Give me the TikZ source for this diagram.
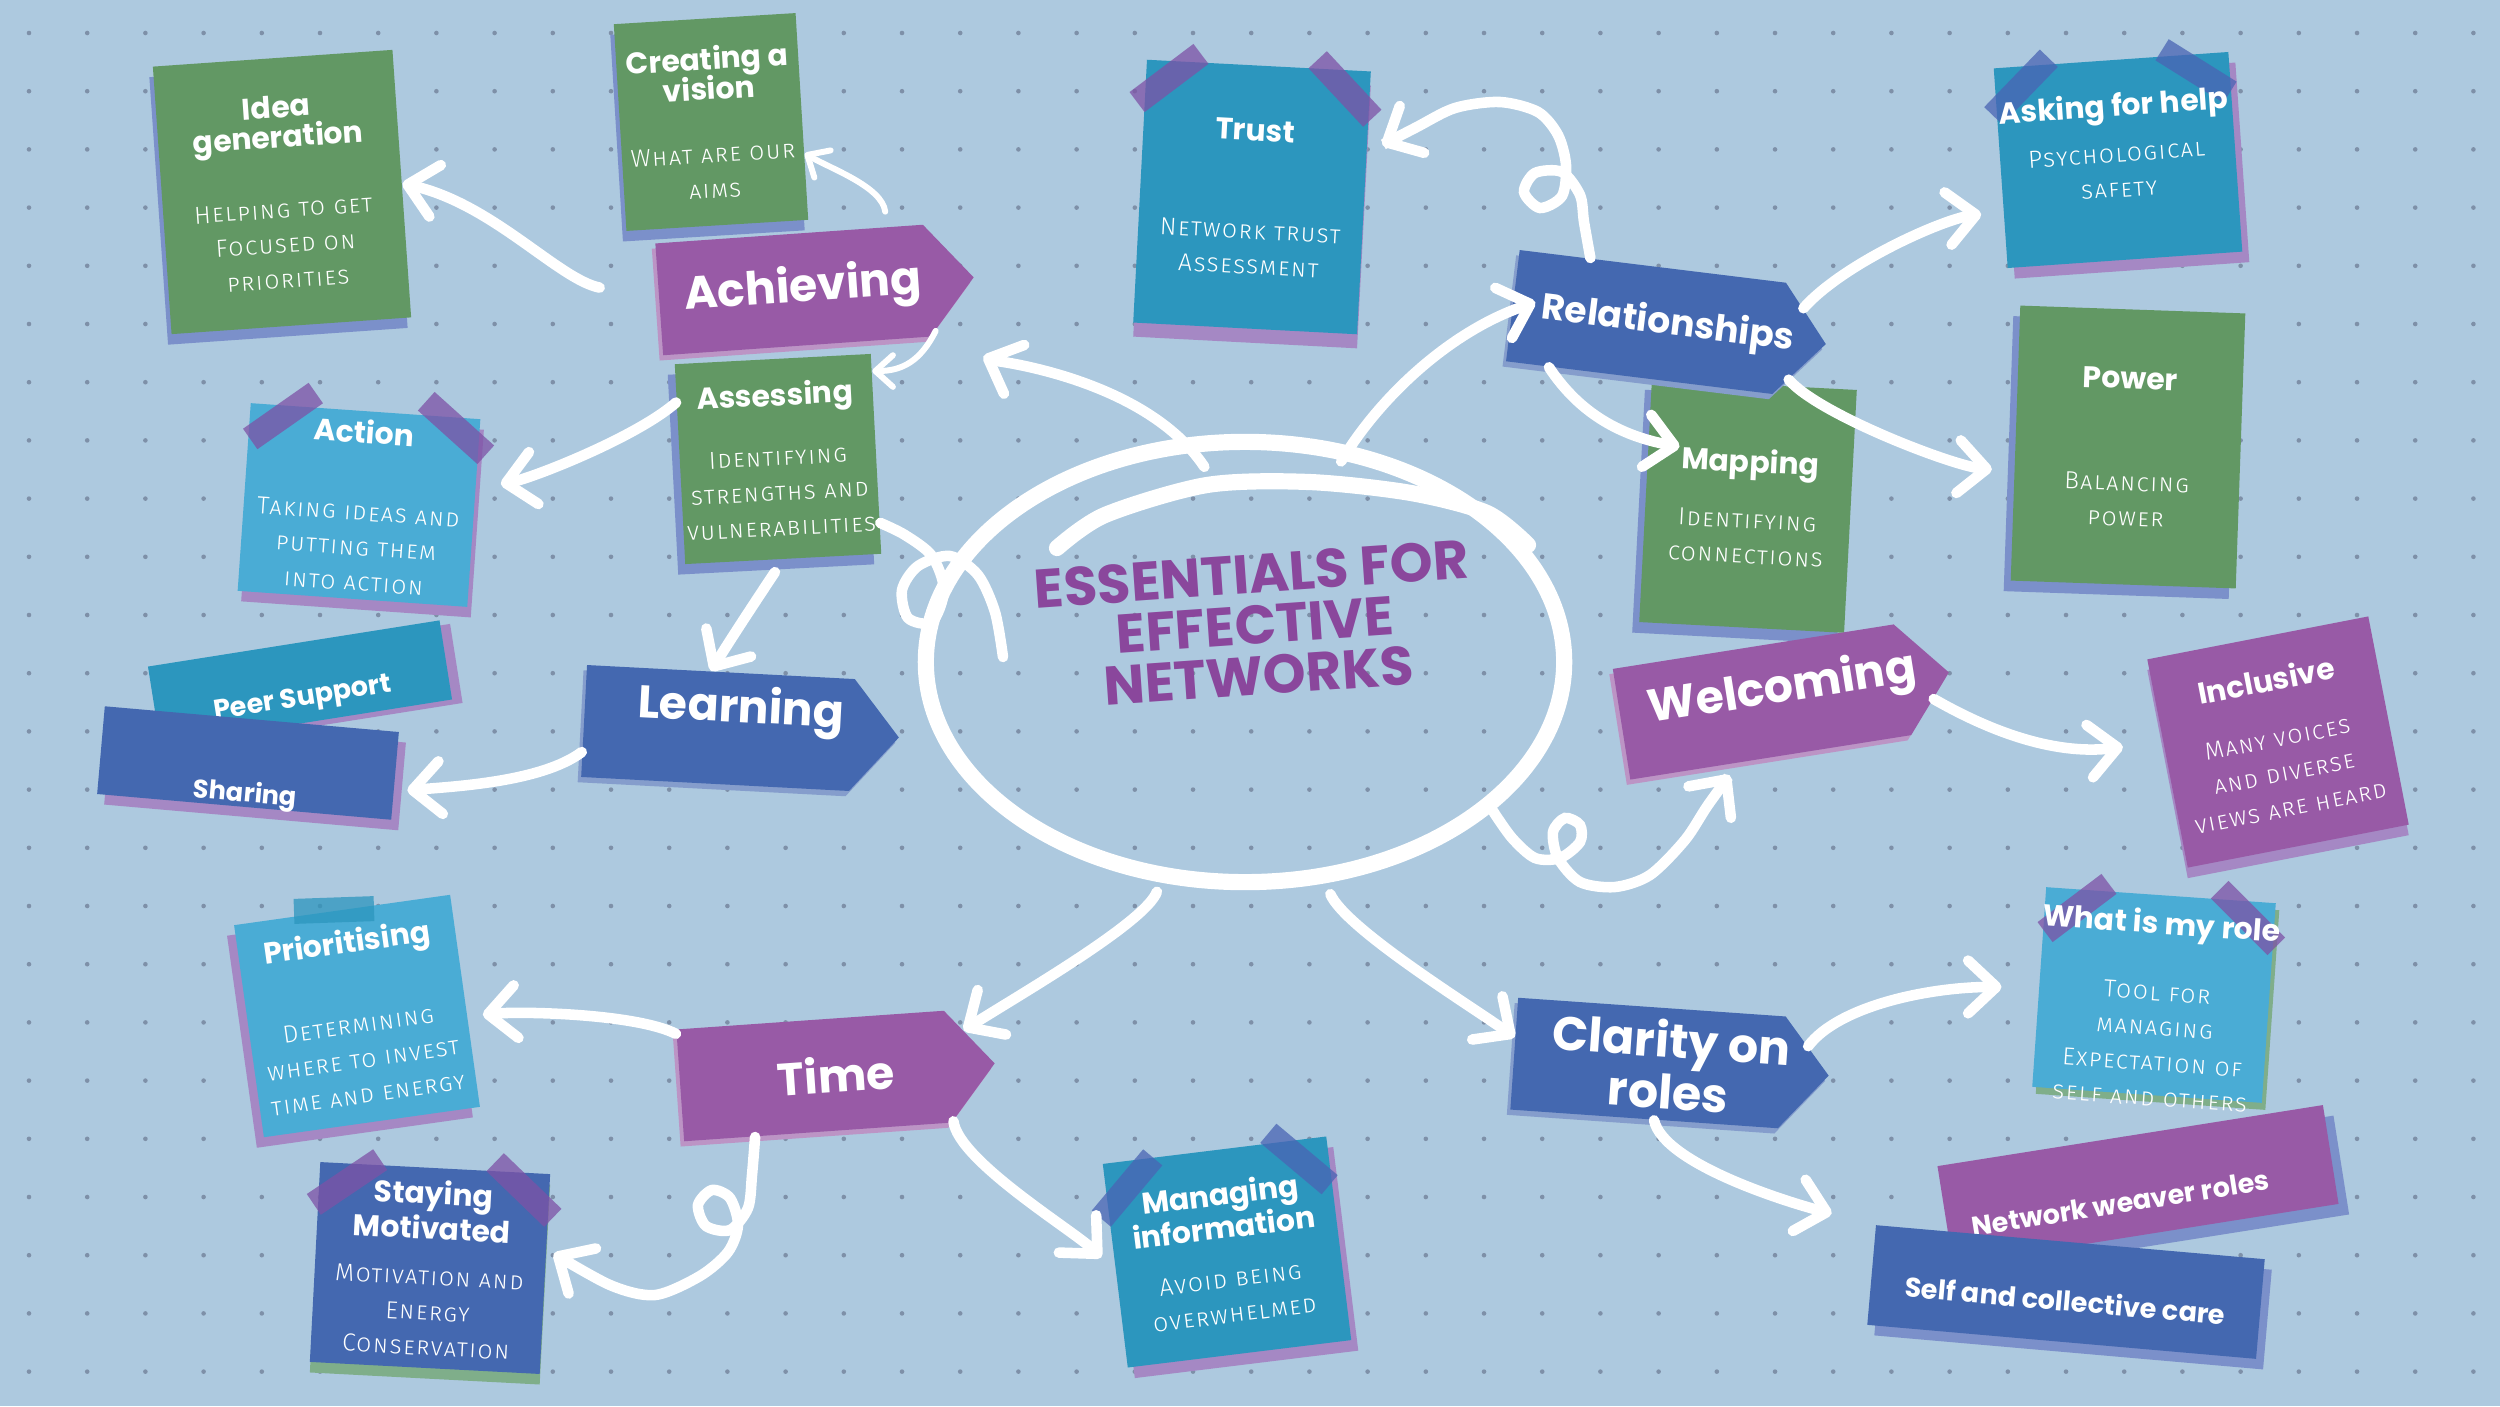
\documentclass[tikz,border=0pt]{standalone}
\usepackage{fontspec}
\setmainfont{Poppins}
\IfFontExistsTF{Fira Sans Light}
  {\newfontfamily\subfont[Letters=SmallCaps,LetterSpace=6]{Fira Sans Light}}
  {\newfontfamily\subfont[Letters=SmallCaps,LetterSpace=6]{Fira Sans}}
\usetikzlibrary{arrows.meta, shapes.geometric, shapes.symbols, shadows}
\definecolor{boardBlue}{HTML}{ADC9DF}
\definecolor{dotGrey}{HTML}{7E90A8}
\definecolor{noteGreen}{HTML}{629864}
\definecolor{noteTeal}{HTML}{2C96BE}
\definecolor{noteSky}{HTML}{4AACD5}
\definecolor{noteBlue}{HTML}{4468B0}
\definecolor{notePurple}{HTML}{985AA6}
\definecolor{titlePurple}{HTML}{8A479C}
\definecolor{shadeBlue}{HTML}{7B90CA}
\definecolor{shadePurple}{HTML}{A588C4}
\definecolor{shadeGreen}{HTML}{7FAE8A}
\definecolor{tapePurple}{HTML}{7D52A6}
\definecolor{tapeBlue}{HTML}{4A64B4}
\newcommand{\ntitle}[1]{{\rmfamily\bfseries\fontsize{8.5}{9}\selectfont #1}}
\newcommand{\nudge}[2][0.22cm]{\kern#1#2\kern-#1}

\begin{document}
\begin{tikzpicture}[x=0.01cm, y=-0.01cm,
  notetext/.style={text=white, align=center, inner sep=1pt, font=\subfont\fontsize{7}{10}\selectfont},
  note/.style={notetext, rectangle, fill=#1},
  tag/.style={signal, signal to=east, signal pointer angle=100, fill=#1, text=white, align=center, inner sep=2pt, minimum width=3.15cm, minimum height=1.12cm, font=\bfseries\fontsize{13}{13}\selectfont, lift={#1!65!white}{-1pt}{-1.5pt}},
  banner/.style={rectangle, fill=#1, text=white, inner xsep=2pt, inner ysep=0pt, minimum width=2.95cm, minimum height=0.8cm, font=\bfseries\fontsize{7.7}{9}\selectfont},
  tape/.style={rectangle, fill=#1, fill opacity=0.75, inner sep=0pt, minimum width=0.8cm, minimum height=0.25cm},
  lift/.style n args={3}{general shadow={fill=#1, shadow xshift=#2, shadow yshift=#3}},
  link/.style={draw=white, line width=3pt, line cap=round, -{Straight Barb[round, length=8pt, width=15pt]}},
  thinlink/.style={draw=white, line width=1.7pt, line cap=round, -{Straight Barb[round, length=5pt, width=9pt]}},
  curl/.style={draw=white, line width=3pt, line cap=round, line join=round},
]
\useasboundingbox (0,0) rectangle (2500,1406);
\fill[boardBlue] (0,0) rectangle (2500,1406);
\foreach \i in {0,...,42} {
  \foreach \j in {0,...,23} {
    \fill[dotGrey] ({29+58.2*\i},{33+58.2*\j}) circle (2.3);
  }
}

% centre
\node[ellipse, draw=white, line width=4.6pt, minimum width=6.38cm, minimum height=4.4cm] (core) at (1245,662) {};
\draw[curl, line width=4.6pt] plot[smooth] coordinates {(1057,548) (1105,515) (1207,485) (1309,482) (1411,493) (1487,513) (1528,545)};
\node[font=\bfseries\fontsize{15.5}{14.5}\selectfont, text=titlePurple, align=center, rotate=4] (title) at (1255,625) {ESSENTIALS FOR\\EFFECTIVE\\NETWORKS};

% notes
\node[note=noteGreen, minimum width=2.4cm, minimum height=2.68cm, rotate=4, lift={shadeBlue}{-1pt}{-3pt}] (idea) at (282,192)
  {\ntitle{Idea}\\[-1.5pt]\ntitle{generation}\\[10pt]Helping to get\\Focused on\\priorities};
\node[note=noteGreen, minimum width=1.82cm, minimum height=2.07cm, rotate=3.5, lift={shadeBlue}{-1pt}{-3pt}] (vision) at (711,122)
  {\ntitle{Creating a}\\[-1.5pt]\ntitle{vision}\\[8pt]What are our\\aims};
\node[note=noteGreen, minimum width=1.87cm, minimum height=2cm, rotate=3, lift={shadeBlue}{-2pt}{-3pt}] (assess) at (778,459)
  {\ntitle{Assessing}\\[7pt]Identifying\\strengths and\\vulnerabilities};
\node[note=noteSky, minimum width=2.3cm, minimum height=1.88cm, rotate=-4, lift={shadePurple}{1pt}{-3pt}] (action) at (359,505)
  {\ntitle{Action}\\[12pt]Taking ideas and\\putting them\\into action};
\node[note=noteTeal, minimum width=2.24cm, minimum height=2.63cm, rotate=-3, lift={shadePurple}{0pt}{-4pt}] (trust) at (1252,197)
  {\ntitle{Trust}\\[18pt]Network trust\\Assessment};
\node[note=noteTeal, minimum width=2.35cm, minimum height=2cm, rotate=4, lift={shadePurple}{2pt}{-3pt}] (askhelp) at (2118,160) {};
\node[note=noteGreen, minimum width=2.25cm, minimum height=2.75cm, rotate=-2, lift={shadeBlue}{-2pt}{-3pt}] (power) at (2128,447)
  {\ntitle{Power}\\[19pt]Balancing\\power};
\node[note=notePurple, minimum width=2.25cm, minimum height=2.12cm, rotate=11, lift={shadePurple}{0pt}{-3pt}] (incl) at (2278,742)
  {\ntitle{Inclusive}\\[6pt]Many voices\\and diverse\\views are heard};
\node[note=noteGreen, minimum width=2.05cm, minimum height=2.43cm, rotate=-3, lift={shadeBlue}{-2pt}{-3pt}] (mapping) at (1748,506)
  {\ntitle{Mapping}\\[6pt]Identifying\\connections};
\node[note=noteSky, minimum width=2.3cm, minimum height=2cm, rotate=-4, lift={shadeGreen}{1pt}{-2pt}] (role) at (2154,995) {};
\node[note=noteSky, minimum width=2.18cm, minimum height=2.14cm, rotate=8, lift={shadePurple}{-2pt}{-3pt}] (prior) at (357,1016)
  {\ntitle{Prioritising}\\[13pt]Determining\\where to invest\\time and energy};
\node[note=noteBlue, minimum width=2.3cm, minimum height=2cm, rotate=-3, lift={shadeGreen}{0pt}{-3pt}] (motiv) at (430,1268)
  {\ntitle{Staying}\\\ntitle{Motivated}\\[3pt]Motivation and\\Energy\\Conservation};
\node[note=noteTeal, minimum width=2.25cm, minimum height=2.05cm, rotate=7, lift={shadePurple}{2pt}{-3pt}] (manage) at (1227,1252)
  {\ntitle{Managing}\\[-0.5pt]\ntitle{information}\\[4pt]Avoid being\\overwhelmed};

% banners
\node[banner=noteTeal, rotate=9, text height=0.5cm, text depth=0.04cm, lift={shadePurple}{3pt}{-1pt}] (peer) at (300,683) {Peer Support};
\node[banner=noteBlue, rotate=-5, text height=0.83cm, text depth=0.05cm, lift={shadePurple}{2pt}{-3pt}, font=\bfseries\fontsize{7.3}{9}\selectfont] (share) at (248,763) {Sharing};
\node[banner=notePurple, rotate=9, minimum width=3.9cm, minimum height=1cm, text height=0.55cm, text depth=0.05cm, lift={shadeBlue}{3pt}{-3pt}] (weaver) at (2138,1185) {\nudge[-0.2cm]{Network weaver roles}};
\node[banner=noteBlue, rotate=-5, minimum width=3.9cm, minimum height=1cm, text height=0.43cm, text depth=0.05cm, lift={shadeBlue}{2pt}{-3pt}] (self) at (2066,1292) {Self and collective care};

% tags
\node[tag=notePurple, rotate=4] (achieve) at (793,290) {\nudge[0.1cm]{Achieving}};
\node[tag=noteBlue, rotate=-3, text depth=0.5cm] (learn) at (718,728) {\nudge{Learning}};
\node[tag=notePurple, rotate=4] (time) at (814,1076) {\nudge{Time}};
\node[tag=noteBlue, rotate=-4, font=\bfseries\fontsize{13.5}{12.8}\selectfont] (clarity) at (1648,1063) {\nudge{Clarity on}\\\nudge{roles}};
\node[tag=noteBlue, rotate=-7, font=\bfseries\fontsize{10.3}{11}\selectfont] (rel) at (1646,322) {\nudge{Relationships}};
\node[tag=notePurple, rotate=9, text depth=0.3cm] (welcome) at (1762,702) {\nudge{Welcoming}};

% tapes
\node[tape=tapePurple, rotate=35] (actionL) at (283,416) {};
\node[tape=tapePurple, rotate=-42] (actionR) at (456,428) {};
\node[tape=tapePurple, rotate=37] (trustL) at (1169,78) {};
\node[tape=tapePurple, rotate=-47] (trustR) at (1345,89) {};
\node[tape=tapeBlue, rotate=46] (helpL) at (2021,87) {};
\node[tape=tapeBlue, rotate=-32] (helpR) at (2196,71) {};
\node[tape=noteTeal, rotate=2] (priorT) at (334,910) {};
\node[tape=tapePurple, rotate=34] (motivL) at (347,1182) {};
\node[tape=tapePurple, rotate=-44] (motivR) at (524,1190) {};
\node[tape=tapePurple, rotate=37] (roleL) at (2077,908) {};
\node[tape=tapePurple, rotate=-45] (roleR) at (2248,918) {};
\node[tape=tapeBlue, rotate=50] (manageL) at (1127,1188) {};
\node[tape=tapeBlue, rotate=-40] (manageR) at (1299,1159) {};

% texts laid over their tapes
\node[notetext, rotate=4] (askhelptext) at (2116,145) {\ntitle{Asking for help}\\[3pt]Psychological\\safety};
\node[notetext, rotate=-4] (roletext) at (2156,1008) {\ntitle{What is my role}\\[9pt]Tool for\\managing\\Expectation of\\self and others};

% connectors
\coordinate (curlend) at (1003,657);
\draw[curl] plot[smooth] coordinates {(assess.-35) (905,535) (932,556) (944,590) (932,622) (908,618) (902,590) (918,566) (950,556) (978,575) (995,612) (curlend)};

\draw[link, shorten <=0.6cm] (achieve.west) .. controls +(-100,-20) and +(90,20) .. (idea.east);
\draw[thinlink, shorten <=0.15cm] (achieve.30) .. controls +(-5,-40) and +(25,15) .. (vision.-22);
\draw[thinlink] (achieve.-20) .. controls +(-15,30) and +(30,0) .. (assess.40);
\draw[link, shorten >=0.25cm] (assess.148) .. controls +(-40,35) and +(55,-10) .. (action.12);
\draw[link, shorten <=0.15cm] (assess.south) .. controls +(-20,30) and +(25,-40) .. (learn.100);
\draw[link, shorten >=0.13cm] (learn.193) .. controls +(-40,30) and +(60,-5) .. (share.-6);

\draw[link, shorten <=-0.35cm, shorten >=0.55cm] (core.105) .. controls +(-40,-60) and +(60,25) .. (achieve.-22);
\draw[link, shorten <=-0.18cm, shorten >=-0.25cm] (core.64) .. controls +(30,-50) and +(-60,20) .. (rel.182);
\draw[link, shorten >=0.17cm] plot[smooth] coordinates {(rel.138) (1584,222) (1580,195) (1562,172) (1535,173) (1524,192) (1540,208) (1562,196) (1566,165) (1558,135) (1538,112) (1500,102) (1455,108) (1415,128) (trust.24)};
\draw[link, shorten >=0.22cm] (rel.12) .. controls +(40,-45) and +(-60,8) .. (askhelp.200);
\draw[link, shorten >=-0.32cm] (rel.212) .. controls +(20,30) and +(-45,-8) .. (mapping.150);
\draw[link, shorten >=0.22cm] (rel.-15) .. controls +(30,35) and +(-60,-5) .. (power.194);

\draw[link, shorten >=0.15cm] plot[smooth] coordinates {(core.-31) (1512,838) (1535,858) (1560,858) (1580,842) (1580,825) (1565,818) (1553,832) (1558,858) (1580,882) (1615,887) (1650,875) (1685,840) (1708,805) (welcome.240)};
\draw[link, shorten >=0.4cm] (welcome.-8) .. controls +(35,20) and +(-120,15) .. (incl.169);

\draw[link, shorten <=0.1cm] (core.-111) .. controls +(-15,40) and +(55,-35) .. (time.13);
\draw[link, shorten <=0.12cm] (core.-70) .. controls +(20,45) and +(-50,-35) .. (clarity.173);
\draw[link, shorten >=0.15cm] (time.159) .. controls +(-40,-20) and +(55,-5) .. (prior.-8);
\draw[link, shorten >=0.08cm] plot[smooth] coordinates {(time.222) (752,1175) (748,1208) (730,1230) (706,1226) (698,1205) (712,1190) (730,1198) (738,1225) (728,1252) (700,1276) (655,1295) (610,1285) (motiv.12)};
\draw[link, shorten >=0.2cm] (time.-22) .. controls +(5,40) and +(-40,-40) .. (manage.183);

\draw[link, shorten >=0.37cm] (clarity.10) .. controls +(30,-40) and +(-110,0) .. (role.180);
\draw[link, shorten >=0.45cm] (clarity.-80) .. controls +(10,45) and +(-80,-20) .. (self.north west);

\end{tikzpicture}
\end{document}
